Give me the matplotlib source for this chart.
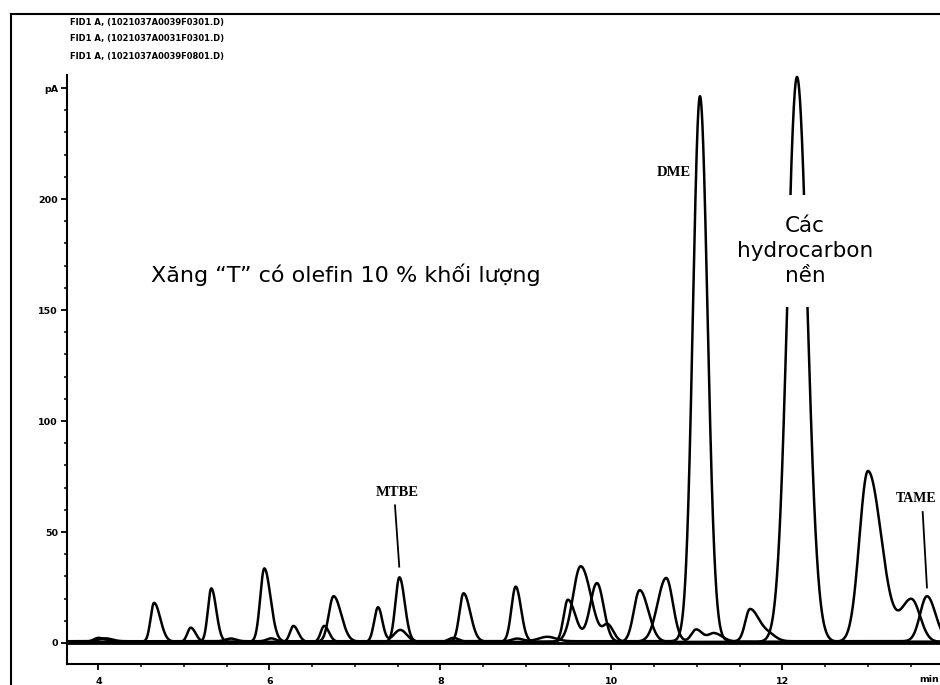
import numpy as np
import matplotlib
matplotlib.use("Agg")
import matplotlib.pyplot as plt
from matplotlib.lines import Line2D
from matplotlib.ticker import MultipleLocator, FixedLocator, FixedFormatter

# ---------------- data (peak tables) ----------------
# trace A
a_rt = [4.65, 5.32, 5.94, 6.75, 7.52, 8.27, 8.88, 9.64, 9.96, 10.64, 10.99, 11.20]
a_h  = [17.5, 24.0, 33.0, 20.5, 29.0, 21.8, 24.8, 34.0, 7.0, 28.7, 5.5, 3.8]
a_wl = [0.040, 0.040, 0.048, 0.056, 0.047, 0.048, 0.050, 0.090, 0.055, 0.100, 0.055, 0.065]
a_wr = [0.072, 0.057, 0.072, 0.088, 0.062, 0.078, 0.062, 0.120, 0.065, 0.078, 0.075, 0.095]
a_base = 0.6
# trace B
b_rt = [4.00, 5.08, 6.28, 6.64, 7.27, 7.53, 8.15, 9.49, 9.83, 10.33, 12.17, 13.00, 13.51]
b_h  = [1.8, 6.4, 7.2, 7.2, 15.6, 5.4, 1.8, 19.0, 26.5, 23.3, 254.5, 77.0, 19.0]
b_wl = [0.055, 0.040, 0.040, 0.040, 0.045, 0.075, 0.055, 0.050, 0.080, 0.068, 0.113, 0.100, 0.120]
b_wr = [0.085, 0.056, 0.056, 0.056, 0.050, 0.075, 0.065, 0.090, 0.078, 0.100, 0.120, 0.157, 0.100]
b_base = 0.5
# trace C
c_rt = [4.08, 5.55, 6.02, 8.90, 9.25, 11.035, 11.62, 11.85, 13.69]
c_h  = [1.3, 1.2, 1.3, 1.2, 2.0, 245.5, 14.5, 2.5, 20.3]
c_wl = [0.080, 0.060, 0.050, 0.060, 0.100, 0.082, 0.055, 0.080, 0.080]
c_wr = [0.080, 0.060, 0.050, 0.060, 0.100, 0.088, 0.110, 0.080, 0.100]
c_base = 0.8

header_lines = ["FID1 A, (1021037A0039F0301.D)",
                "FID1 A, (1021037A0031F0301.D)",
                "FID1 A, (1021037A0039F0801.D)"]
y_ticks = [0, 50, 100, 150, 200, 250]
y_labels = ["0", "50", "100", "150", "200", "pA"]
x_ticks = [4, 6, 8, 10, 12, 14]
x_labels = ["4", "6", "8", "10", "12", ""]

# ---------------- figure ----------------
W, H = 940, 685
fig = plt.figure(figsize=(W / 100, H / 100), dpi=100)
fig.patch.set_facecolor("white")

xlim = (3.632, 14.2)
ylim = (-9.46, 255.86)
px_per_min = 85.5
ax_w = (xlim[1] - xlim[0]) * px_per_min
ax = fig.add_axes([67 / W, 21 / H, ax_w / W, (664 - 75) / H])
ax.set_xlim(*xlim)
ax.set_ylim(*ylim)

t = np.linspace(3.5, 14.4, 6000)


def trace(rt, h, wl, wr, base):
    y = np.full_like(t, base)
    for r, hh, l, rr in zip(rt, h, wl, wr):
        w = np.where(t < r, l, rr)
        y += hh * np.exp(-0.5 * ((t - r) / w) ** 2)
    return y


lw = 1.8
ax.axhline(0, color="black", lw=2.0, zorder=2)
for rt, h, wl, wr, base in [(a_rt, a_h, a_wl, a_wr, a_base),
                            (b_rt, b_h, b_wl, b_wr, b_base),
                            (c_rt, c_h, c_wl, c_wr, c_base)]:
    ax.plot(t, trace(rt, h, wl, wr, base), color="black", lw=lw,
            solid_joinstyle="round", zorder=3)

for s in ["top", "right"]:
    ax.spines[s].set_visible(False)
for s in ["left", "bottom"]:
    ax.spines[s].set_linewidth(1.5)

ax.yaxis.set_major_locator(FixedLocator(y_ticks))
ax.yaxis.set_major_formatter(FixedFormatter(y_labels))
ax.yaxis.set_minor_locator(MultipleLocator(10))
ax.xaxis.set_major_locator(FixedLocator(x_ticks))
ax.xaxis.set_major_formatter(FixedFormatter(x_labels))
ax.xaxis.set_minor_locator(MultipleLocator(0.5))
ax.tick_params(axis="both", which="major", direction="out", length=4,
               width=1.3, labelsize=6.8, pad=2.5)
ax.tick_params(axis="both", which="minor", direction="out", length=2.5,
               width=1.1)
ax.tick_params(axis="x", which="major", pad=5)
for lab in ax.get_xticklabels() + ax.get_yticklabels():
    lab.set_fontweight("bold")

# annotations
ax.text(6.889, 165.8, "Xăng “T” có olefin 10 % khối lượng", fontsize=16,
        family="DejaVu Sans", ha="center", va="center", zorder=5)
ax.text(12.264, 176.6, "Các\nhydrocarbon\nnền", fontsize=15.5,
        family="DejaVu Sans", ha="center", va="center", linespacing=1.3,
        zorder=6,
        bbox=dict(boxstyle="square,pad=1.0", fc="white", ec="none"))
serif = dict(family="Liberation Serif", fontweight="bold", fontsize=10.5,
             ha="center", va="center", zorder=5)
ax.text(10.73, 212, "DME", **serif)
ax.text(7.50, 68, "MTBE", **serif)
ax.text(13.565, 65, "TAME", **dict(serif, fontsize=10))
ax.plot([7.468, 7.518], [62, 34.4], color="black", lw=1.3, zorder=4)
ax.plot([13.64, 13.69], [59, 25], color="black", lw=1.3, zorder=4)

# header lines
for line, yp in zip(header_lines, [22, 38.5, 56]):
    fig.text(70 / W, 1 - yp / H, line, fontsize=6.0, fontweight="bold",
             ha="left", va="center")

fig.text(919 / W, 1 - 679 / H, "min", fontsize=6.8, fontweight="bold",
         ha="left", va="center")

# outer frame of the printout
fig.add_artist(Line2D([11 / W, 1.0], [1 - 14 / H, 1 - 14 / H],
                      color="black", lw=1.5, transform=fig.transFigure))
fig.add_artist(Line2D([11 / W, 11 / W], [0, 1 - 14 / H],
                      color="black", lw=1.5, transform=fig.transFigure))

fig.savefig("out.png", dpi=100, facecolor="white")
